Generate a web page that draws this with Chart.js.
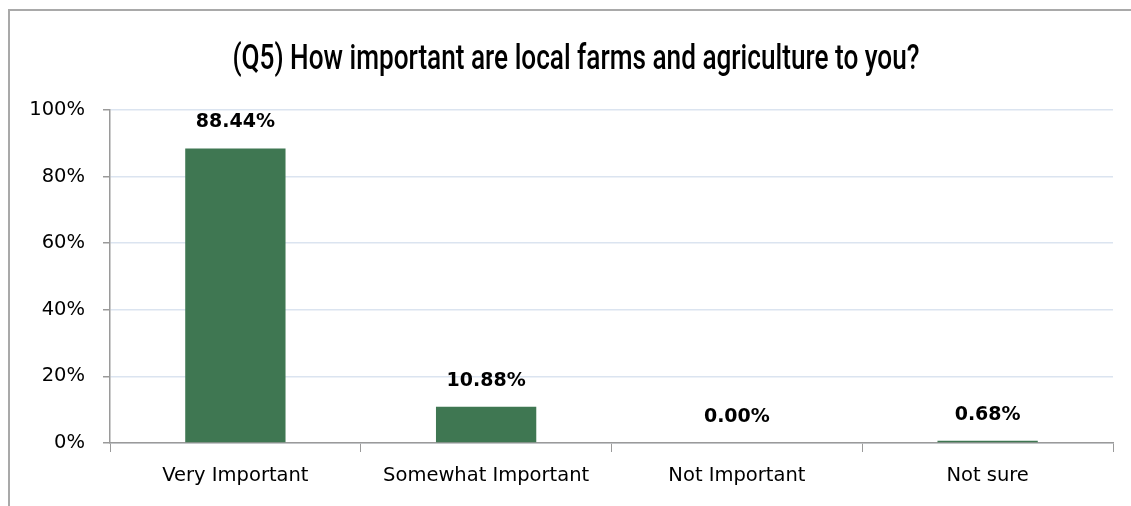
<!DOCTYPE html>
<html>
<head>
<meta charset="utf-8">
<script src="https://cdn.jsdelivr.net/npm/chart.js@4"></script>
<style>
  html, body { margin: 0; padding: 0; background: #fff; overflow: hidden; }
  #wrap { position: relative; width: 1131px; height: 506px; }
  #frame { position: absolute; left: 8px; top: 9px; width: 1200px; height: 600px; border: 2px solid #a9a9a9; }
  canvas { position: absolute; left: 0; top: 0; }
</style>
</head>
<body>
<div id="wrap">
  <div id="frame"></div>
  <canvas id="q5Chart" width="1131" height="506"></canvas>
</div>
<script>
const categories = ['Very Important', 'Somewhat Important', 'Not Important', 'Not sure'];
const percentages = [88.44, 10.88, 0.00, 0.68];
const yTicks = [0, 20, 40, 60, 80, 100];
const chartTitle = '(Q5) How important are local farms and agriculture to you?';

const bodyFont = '"DejaVu Sans", sans-serif';

// title is centred on the framed box and squeezed into a narrow face
const titlePlugin = {
  id: 'boxTitle',
  afterDraw(chart) {
    const ctx = chart.ctx;
    const targetWidth = 687;
    ctx.save();
    ctx.font = '500 35px Roboto, sans-serif';
    const w = ctx.measureText(chartTitle).width;
    ctx.translate(576, 60);
    ctx.scale(targetWidth / w, 1);
    ctx.fillStyle = '#000';
    ctx.textAlign = 'center';
    ctx.textBaseline = 'middle';
    ctx.fillText(chartTitle, 0, 0);
    ctx.restore();
  }
};

// bold value labels above each bar
const valueLabels = {
  id: 'valueLabels',
  afterDatasetsDraw(chart) {
    const ctx = chart.ctx;
    const meta = chart.getDatasetMeta(0);
    ctx.save();
    ctx.font = 'bold 19px ' + bodyFont;
    ctx.fillStyle = '#000';
    ctx.textAlign = 'center';
    ctx.textBaseline = 'middle';
    meta.data.forEach((bar, i) => {
      ctx.fillText(percentages[i].toFixed(2) + '%', bar.x, bar.y - 26);
    });
    ctx.restore();
  }
};

new Chart(document.getElementById('q5Chart'), {
  type: 'bar',
  data: {
    labels: categories,
    datasets: [{
      data: percentages,
      backgroundColor: '#3f7752',
      barPercentage: 0.4,
      categoryPercentage: 1.0
    }]
  },
  options: {
    responsive: false,
    animation: false,
    layout: { padding: { left: 0, right: 18, top: 110, bottom: 0 } },
    plugins: {
      legend: { display: false },
      tooltip: { enabled: false },
      title: { display: false }
    },
    scales: {
      x: {
        grid: {
          display: true,
          drawOnChartArea: false,
          offset: true,
          color: '#9a9a9a',
          tickLength: 9
        },
        border: { color: '#9a9a9a', width: 1.5 },
        ticks: { color: '#000', font: { family: bodyFont, size: 19.5 }, padding: 12 },
        afterFit(scale) { scale.height = 63; }
      },
      y: {
        min: 0,
        max: 100,
        afterBuildTicks(scale) { scale.ticks = yTicks.map(v => ({ value: v })); },
        grid: {
          color: '#dbe4f0',
          lineWidth: 1.5,
          tickColor: '#9a9a9a',
          tickLength: 7
        },
        border: { color: '#9a9a9a', width: 1.5 },
        ticks: {
          color: '#000',
          font: { family: bodyFont, size: 19.5 },
          padding: 18,
          callback: v => v + '%'
        },
        afterFit(scale) { scale.width = 110; }
      }
    }
  },
  plugins: [titlePlugin, valueLabels]
});
</script>
</body>
</html>
